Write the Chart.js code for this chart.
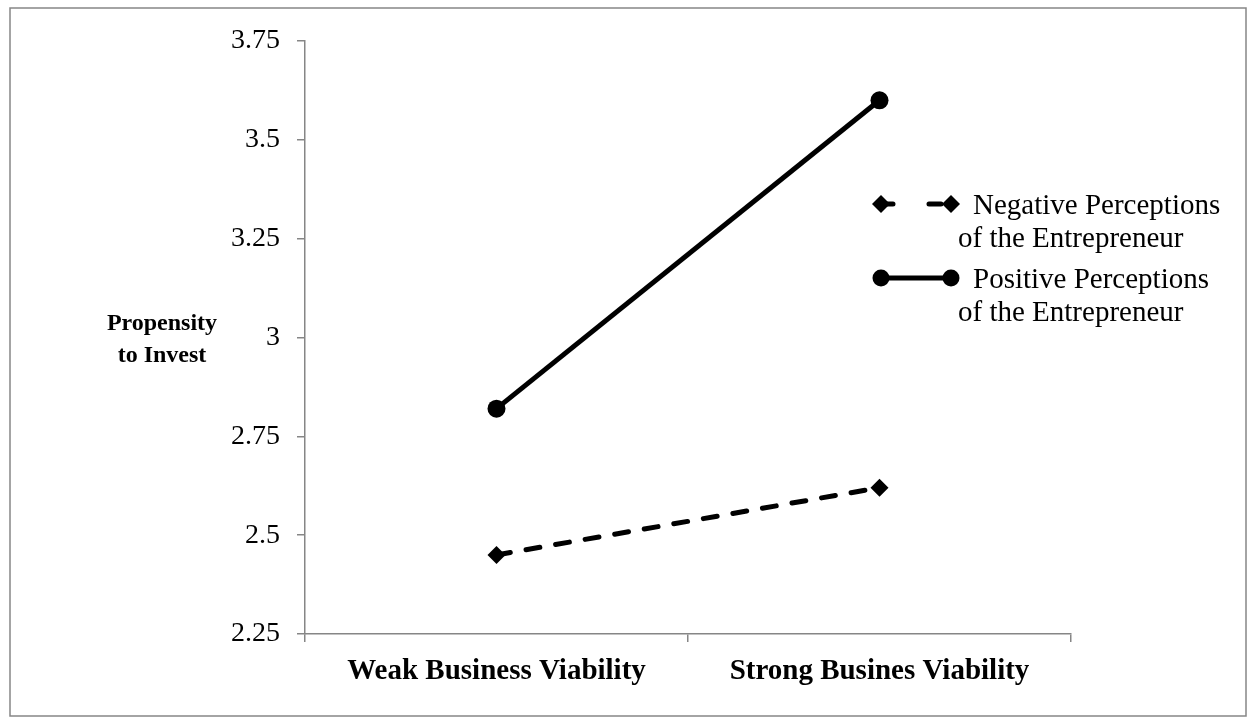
<!DOCTYPE html>
<html>
<head>
<meta charset="utf-8">
<script src="https://cdn.jsdelivr.net/npm/chart.js@4/dist/chart.umd.min.js"></script>
<style>
  html, body { margin: 0; padding: 0; background: #fff; }
  #wrap { position: relative; width: 1255px; height: 724px; }
</style>
</head>
<body>
<div id="wrap"><canvas id="chart" width="1255" height="724"></canvas></div>
<script>
// Data
var categories = ['Weak Business Viability', 'Strong Busines Viability']
var negative = [2.45, 2.62]
var positive = [2.82, 3.60]
var seriesNames = [['Negative Perceptions', 'of the Entrepreneur'], ['Positive Perceptions', 'of the Entrepreneur']]
var yTicks = [2.25, 2.5, 2.75, 3, 3.25, 3.5, 3.75]
var yTitle = ['Propensity', 'to Invest']

var serif = "'Liberation Serif', 'Times New Roman', serif"
var axisGray = '#868686'

// border, y title and legend drawn by hand
var extras = {
    id: 'extras',
    beforeDraw: function (chart) {
        var c = chart.ctx
        c.save()
        c.fillStyle = '#fff'
        c.fillRect(0, 0, chart.width, chart.height)
        c.strokeStyle = axisGray
        c.lineWidth = 1.5
        c.strokeRect(10, 8, 1236, 708)
        c.restore()
    },
    afterDraw: function (chart) {
        var c = chart.ctx
        c.save()
        c.fillStyle = '#000'
        c.font = 'bold 24px ' + serif
        c.textAlign = 'center'
        c.textBaseline = 'middle'
        c.fillText(yTitle[0], 162, 324)
        c.fillText(yTitle[1], 162, 356)

        // legend
        c.font = '29px ' + serif
        c.textAlign = 'left'
        var rows = [
            { y: 204, dash: [12, 36], style: 'diamond' },
            { y: 278, dash: [], style: 'circle' }
        ]
        for (var i = 0; i < rows.length; i++) {
            var r = rows[i]
            c.strokeStyle = '#000'
            c.lineWidth = 5
            c.lineCap = 'round'
            c.setLineDash(r.dash)
            c.beginPath()
            c.moveTo(881, r.y)
            c.lineTo(951, r.y)
            c.stroke()
            c.setLineDash([])
            c.fillStyle = '#000'
            var ends = [881, 951]
            for (var k = 0; k < 2; k++) {
                c.beginPath()
                if (r.style === 'circle') {
                    c.arc(ends[k], r.y, 8.5, 0, Math.PI * 2)
                } else {
                    c.moveTo(ends[k] - 9, r.y)
                    c.lineTo(ends[k], r.y - 9)
                    c.lineTo(ends[k] + 9, r.y)
                    c.lineTo(ends[k], r.y + 9)
                    c.closePath()
                }
                c.fill()
            }
            c.fillText(seriesNames[i][0], 973, r.y + 2)
            c.fillText(seriesNames[i][1], 958, r.y + 35)
        }
        c.restore()
    }
}

var ctx = document.getElementById('chart').getContext('2d')
var myChart = new Chart(ctx, {
    type: 'line',
    data: {
        labels: categories,
        datasets: [{
            label: seriesNames[0].join(' '),
            data: negative,
            borderColor: '#000',
            backgroundColor: '#000',
            borderWidth: 5,
            borderDash: [14, 16],
            borderCapStyle: 'round',
            pointStyle: 'rectRot',
            pointRadius: 9,
            pointBorderWidth: 0,
            tension: 0
        }, {
            label: seriesNames[1].join(' '),
            data: positive,
            borderColor: '#000',
            backgroundColor: '#000',
            borderWidth: 5,
            pointStyle: 'circle',
            pointRadius: 9,
            pointBorderWidth: 0,
            tension: 0
        }]
    },
    options: {
        responsive: false,
        animation: false,
        devicePixelRatio: 1,
        layout: { padding: { left: 0, top: 41, right: 184, bottom: 0 } },
        plugins: {
            legend: { display: false },
            tooltip: { enabled: false }
        },
        scales: {
            x: {
                offset: true,
                grid: {
                    offset: true,
                    drawOnChartArea: false,
                    drawTicks: true,
                    tickLength: 8,
                    color: axisGray,
                    lineWidth: 1.5
                },
                border: { color: axisGray, width: 1.5 },
                ticks: {
                    color: '#000',
                    padding: 12,
                    font: { family: serif, size: 29, weight: 'bold' },
                    maxRotation: 0
                },
                afterFit: function (s) { s.height = 90 }
            },
            y: {
                min: 2.25,
                max: 3.75,
                afterBuildTicks: function (s) {
                    s.ticks = yTicks.map(function (v) { return { value: v } })
                },
                grid: {
                    drawOnChartArea: false,
                    drawTicks: true,
                    tickLength: 8,
                    color: axisGray,
                    lineWidth: 1.5
                },
                border: { color: axisGray, width: 1.5 },
                ticks: {
                    color: '#000',
                    padding: 17,
                    font: { family: serif, size: 28 },
                    callback: function (v) { return String(v) }
                },
                afterFit: function (s) { s.width = 305 }
            }
        }
    },
    plugins: [extras]
})
</script>
</body>
</html>
